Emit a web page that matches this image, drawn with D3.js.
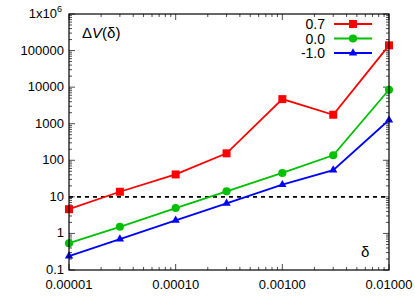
<!DOCTYPE html>
<html>
<head>
<meta charset="utf-8">
<script src="https://cdn.jsdelivr.net/npm/d3@7"></script>
<style>
body{margin:0;background:#fff;}
text{font-family:"Liberation Sans",Arial,sans-serif;}
</style>
</head>
<body>
<script>
// data
var deltas = [1e-5, 3e-5, 1e-4, 3e-4, 1e-3, 3e-3, 1e-2];
var names = ["0.7", "0.0", "-1.0"];
var v07 = [4.6, 13.8, 41, 155, 4700, 1760, 139000];
var v00 = [0.54, 1.52, 4.95, 14.2, 45, 137, 8500];
var vm10 = [0.24, 0.70, 2.28, 6.65, 21.5, 54, 1260];
var yTicks = [0.1, 1, 10, 100, 1000, 10000, 100000, 1e6];
var yTickLabels = ["0.1", "1", "10", "100", "1000", "10000", "100000", "1x10"];
var xTicks = [1e-5, 1e-4, 1e-3, 1e-2];
var xTickLabels = ["0.00001", "0.00010", "0.00100", "0.01000"];
var threshold = 10;

var W = 415, H = 299;
var m = {l:69, r:26, t:14, b:29};
var svg = d3.select("body").append("svg").attr("width", W).attr("height", H);

var x = d3.scaleLog().domain([1e-5, 1e-2]).range([m.l, W-m.r]);
var y = d3.scaleLog().domain([0.1, 1e6]).range([H-m.b, m.t]);

var g = svg.append("g");

//minor ticks
function minors(dom){
	var out=[];
	for(var e=Math.round(Math.log10(dom[0])); e<Math.round(Math.log10(dom[1])); e++){
		for(var k=2;k<10;k++) out.push(k*Math.pow(10,e));
	}
	return out;
}
var tk = g.append("g").attr("stroke","#000").attr("stroke-width",0.7);
minors(x.domain()).forEach(function(v){
	tk.append("line").attr("x1",x(v)).attr("x2",x(v)).attr("y1",y.range()[0]).attr("y2",y.range()[0]-3);
	tk.append("line").attr("x1",x(v)).attr("x2",x(v)).attr("y1",y.range()[1]).attr("y2",y.range()[1]+3);
});
xTicks.forEach(function(v){
	tk.append("line").attr("x1",x(v)).attr("x2",x(v)).attr("y1",y.range()[0]).attr("y2",y.range()[0]-6);
	tk.append("line").attr("x1",x(v)).attr("x2",x(v)).attr("y1",y.range()[1]).attr("y2",y.range()[1]+6);
});
minors(y.domain()).forEach(function(v){
	tk.append("line").attr("y1",y(v)).attr("y2",y(v)).attr("x1",x.range()[0]).attr("x2",x.range()[0]+3);
	tk.append("line").attr("y1",y(v)).attr("y2",y(v)).attr("x1",x.range()[1]).attr("x2",x.range()[1]-3);
});
yTicks.forEach(function(v){
	tk.append("line").attr("y1",y(v)).attr("y2",y(v)).attr("x1",x.range()[0]).attr("x2",x.range()[0]+6);
	tk.append("line").attr("y1",y(v)).attr("y2",y(v)).attr("x1",x.range()[1]).attr("x2",x.range()[1]-6);
});

// tick labels
yTicks.forEach(function(v,i){
	var t = g.append("text").attr("x",x.range()[0]-5).attr("y",y(v)+4)
		.attr("text-anchor","end").attr("font-size",13).text(yTickLabels[i]);
	if(i==yTicks.length-1){
		t.attr("x",x.range()[0]-12);
		g.append("text").attr("x",x.range()[0]-12).attr("y",y(v)-2).attr("font-size",9).text("6");
	}
});
xTicks.forEach(function(v,i){
	g.append("text").attr("x",x(v)).attr("y",H-m.b+19).attr("text-anchor","middle")
		.attr("font-size",13).text(xTickLabels[i]);
});

// dashed threshold
g.append("line").attr("x1",x.range()[0]).attr("x2",x.range()[1])
	.attr("y1",y(threshold)).attr("y2",y(threshold))
	.attr("stroke","#000").attr("stroke-width",1.8).attr("stroke-dasharray","4,4");

var series = [
	{name:names[0], vals:v07, color:"#ff0000", mark:"square"},
	{name:names[1], vals:v00, color:"#00c000", mark:"circle"},
	{name:names[2], vals:vm10, color:"#0000ff", mark:"triangle"}
];
var sym = {square:d3.symbolSquare, circle:d3.symbolCircle, triangle:d3.symbolTriangle};
var size = {square:64, circle:52, triangle:30};
var line = d3.line().x(function(d){return x(d[0]);}).y(function(d){return y(d[1]);});

series.forEach(function(s,si){
	var pts = deltas.map(function(d,i){return [d, s.vals[i]];});
	g.append("path").attr("d",line(pts)).attr("fill","none").attr("stroke",s.color).attr("stroke-width",1.8);
	g.selectAll(null).data(pts).enter().append("path")
		.attr("d",d3.symbol().type(sym[s.mark]).size(size[s.mark]))
		.attr("transform",function(d){return "translate("+x(d[0])+","+y(d[1])+")";})
		.attr("fill",s.color);
	// legend
	var ly = 24 + si*14.5;
	g.append("text").attr("x",325).attr("y",ly+5).attr("text-anchor","end").attr("font-size",14).text(s.name);
	g.append("line").attr("x1",334).attr("x2",372).attr("y1",ly).attr("y2",ly).attr("stroke",s.color).attr("stroke-width",1.8);
	g.append("path").attr("d",d3.symbol().type(sym[s.mark]).size(size[s.mark]))
		.attr("transform","translate(353,"+ly+")").attr("fill",s.color);
});

// frame
g.append("rect").attr("x",x.range()[0]).attr("y",y.range()[1])
	.attr("width",x.range()[1]-x.range()[0]).attr("height",y.range()[0]-y.range()[1])
	.attr("fill","none").attr("stroke","#000").attr("stroke-width",1.2);

// labels
var lab = g.append("text").attr("x",82).attr("y",38).attr("font-size",15)
	.attr("font-family","'Liberation Serif','Times New Roman',serif");
lab.append("tspan").text("\u0394");
lab.append("tspan").attr("font-style","italic").text("V");
lab.append("tspan").text("(\u03b4)");
g.append("text").attr("x",361).attr("y",257).attr("font-size",15)
	.attr("font-family","'Liberation Serif','Times New Roman',serif").text("\u03b4");
</script>
</body>
</html>
